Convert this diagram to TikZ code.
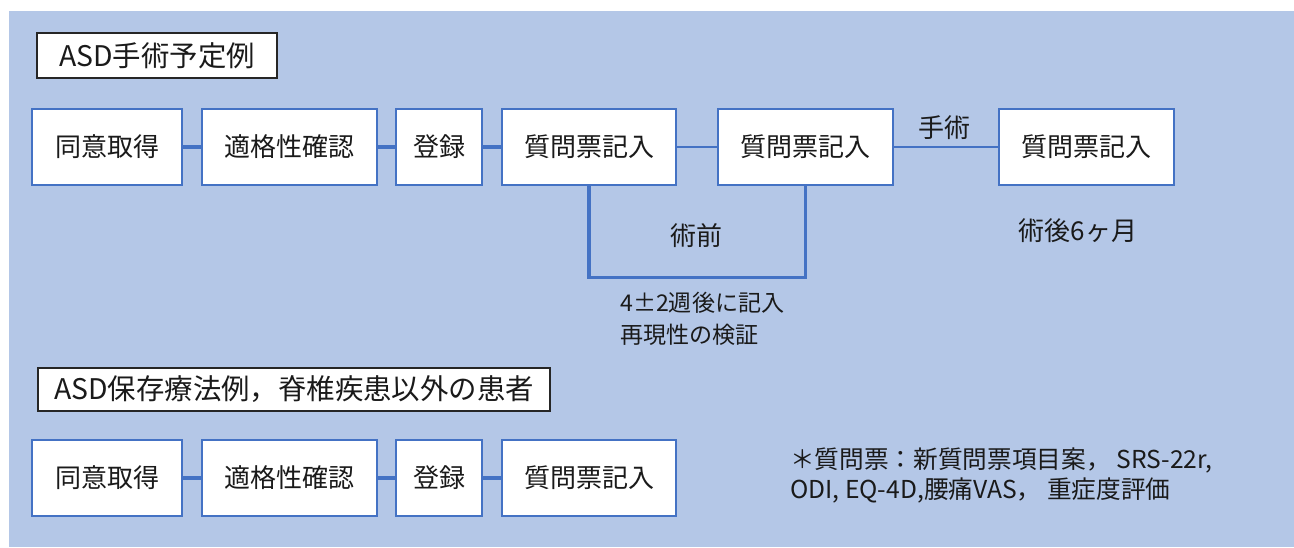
\documentclass[tikz,border=0pt]{standalone}
\usepackage{fontspec}
\setmainfont{Noto Sans CJK JP}
\definecolor{bgblue}{HTML}{B4C7E7}
\definecolor{boxblue}{HTML}{4472C4}
\definecolor{txt}{HTML}{1A1A1A}
\tikzset{
  stepbox/.style={draw=boxblue, line width=1.5pt, fill=white, minimum height=57pt,
    inner sep=0pt, text=txt, font=\fontsize{19.5}{22}\selectfont},
  headbox/.style={draw=black!85, line width=0.8pt, fill=white, inner sep=0pt,
    text=txt, font=\fontsize{21.3}{24}\selectfont},
  conn/.style={draw=boxblue, line width=2.6pt},
  connthin/.style={draw=boxblue, line width=2.2pt},
  lbl/.style={text=txt, inner sep=0pt, font=\fontsize{19.5}{22}\selectfont},
  small/.style={text=txt, inner sep=0pt, font=\fontsize{17.3}{24}\selectfont, align=left},
}
\begin{document}
\begin{tikzpicture}[x=0.75pt,y=-0.75pt]
\useasboundingbox (0,0) rectangle (1294,547);
\fill[bgblue] (9,11) rectangle (1294,547);

% headers
\node[headbox, minimum width=180pt, minimum height=33.75pt] (h1) at (157,55.5) {ASD手術予定例};
\node[headbox, minimum width=384pt, minimum height=32.25pt] (h2) at (294,389.5) {ASD保存療法例，脊椎疾患以外の患者};

% top row
\node[stepbox, minimum width=112.5pt] (a1) at (107,147) {同意取得};
\node[stepbox, minimum width=131.25pt] (a2) at (289.5,147) {適格性確認};
\node[stepbox, minimum width=64.5pt] (a3) at (439,147) {登録};
\node[stepbox, minimum width=130.5pt] (a4) at (589,147) {質問票記入};
\node[stepbox, minimum width=131.25pt] (a5) at (805.5,147) {質問票記入};
\node[stepbox, minimum width=131.25pt] (a6) at (1086.5,147) {質問票記入};

\draw[conn] (a1) -- (a2);
\draw[conn] (a2) -- (a3);
\draw[conn] (a3) -- (a4);
\draw[connthin] (a4) -- (a5);
\draw[connthin] (a5) -- (a6);

\coordinate (br) at (589,277.5);
\draw[conn, line join=miter] (a4.south) -- (a4.south |- br) -| (a5.south);

\node[lbl] (pre) at (696,236) {術前};
\node[lbl] (op) at (944,128) {手術};
\node[lbl] (post) at (1078,231) {術後6ヶ月};
\node[small, anchor=north west] (note1) at (620,292) {4±2週後に記入\\再現性の検証};

% bottom row
\node[stepbox, minimum width=112.5pt] (b1) at (107,478) {同意取得};
\node[stepbox, minimum width=131.25pt] (b2) at (289.5,478) {適格性確認};
\node[stepbox, minimum width=64.5pt] (b3) at (439,478) {登録};
\node[stepbox, minimum width=130.5pt] (b4) at (589,478) {質問票記入};
\draw[conn] (b1) -- (b2);
\draw[conn] (b2) -- (b3);
\draw[conn] (b3) -- (b4);

\node[small, anchor=north west, font=\fontsize{18.5}{22}\selectfont] (fn) at (790,448) { ＊質問票：新質問票項目案， SRS-22r,\\ODI, EQ-4D,腰痛VAS， 重症度評価};
\end{tikzpicture}
\end{document}
